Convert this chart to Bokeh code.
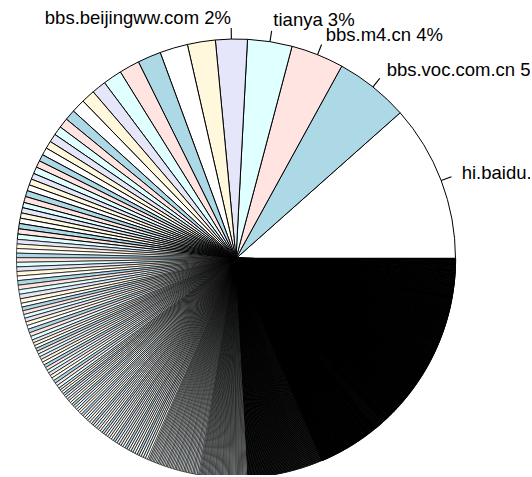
import numpy as np
from bokeh.plotting import figure
from bokeh.models import ColumnDataSource, Range1d
from bokeh.core.properties import value
from bokeh.embed import file_html
from bokeh.resources import INLINE

# ---- data (post counts per site) ----
sites = ["hi.baidu.com", "bbs.voc.com.cn", "bbs.m4.cn", "tianya", "bbs.beijingww.com"]
site_posts = [416, 196, 140, 118, 84]
# unlabelled sites, largest first
other_posts = [74, 74, 62, 54, 50, 38, 36, 36,
               28, 26, 24, 22, 20, 20, 18, 18, 18, 16, 16, 16, 16, 16, 14, 14, 14, 14, 14, 14, 14]
# long tail as a frequency table: posts per site -> number of sites
tail_values = [12, 10, 8, 6, 4, 3, 2, 1]
tail_counts = [14, 10, 18, 50, 35, 43, 100, 669]

pie_colors = ["#FFFFFF", "#ADD8E6", "#FFE4E1", "#E0FFFF", "#E6E6FA", "#FFF8DC"]

# ---- build table ----
vals = np.array(site_posts + other_posts + list(np.repeat(tail_values, tail_counts)), dtype=float)
total = vals.sum()
frac = np.cumsum(vals) / total
ends = 2 * np.pi * frac
starts = np.concatenate([[0.0], ends[:-1]])
cols = [pie_colors[i % len(pie_colors)] for i in range(len(vals))]
# border width per wedge (rendering style so thin wedges read like the reference)
lw = np.where(vals >= 14, 1.0, np.where(vals >= 6, 0.7, np.where(vals >= 3, 0.6, np.where(vals >= 2, 1.0, 1.3))))
src = ColumnDataSource(dict(start=starts, end=ends, color=cols, lw=lw))

# ---- figure: centre at page (235.5, 258), radius 219.5 px ----
W, H = 530, 475
R = 219.5
cx, cy = 235.5, 258.0
p = figure(width=W, height=H, output_backend="svg", toolbar_location=None,
           x_axis_type=None, y_axis_type=None, min_border=0,
           x_range=Range1d(-cx / R, (W - cx) / R),
           y_range=Range1d(-(H - cy) / R, cy / R))
p.grid.visible = False
p.outline_line_color = None
p.background_fill_color = "white"
p.border_fill_color = "white"

p.wedge(x=0, y=0, radius=1, start_angle="start", end_angle="end",
        direction="anticlock", fill_color="color", line_color="black",
        line_width="lw", source=src)

# labels for the named sites
mids = (starts[:len(sites)] + ends[:len(sites)]) / 2
lx0 = np.cos(mids); ly0 = np.sin(mids)
labels = [f"{s} {int(round(100 * v / total))}%" for s, v in zip(sites, site_posts)]
p.segment(x0=lx0, y0=ly0, x1=1.05 * lx0, y1=1.05 * ly0, line_color="black", line_width=1.1)
for x, y, t in zip(lx0, ly0, labels):
    p.text(x=[1.1 * x], y=[1.1 * y], text=[t], text_align="left" if x >= 0 else "right",
           text_baseline="middle", text_font=value("Liberation Sans"),
           text_font_size="18.5px", text_color="black")

open("out.html", "w").write(file_html(p, INLINE))
